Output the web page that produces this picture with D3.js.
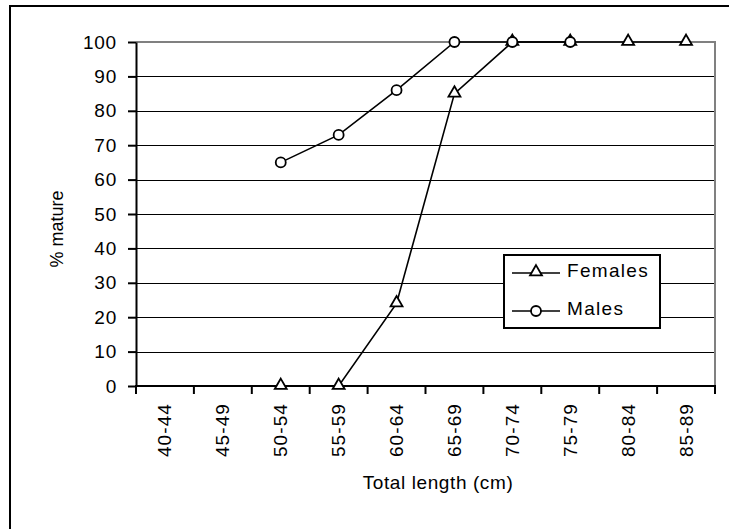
<!DOCTYPE html>
<html>
<head>
<meta charset="utf-8">
<script src="https://cdn.jsdelivr.net/npm/d3@7"></script>
<style>
  html, body { margin: 0; padding: 0; background: #fff; }
  svg { display: block; font-family: "Liberation Sans", Arial, sans-serif; }
</style>
</head>
<body>
<script>
// Length classes (cm) and % mature by sex
const lengthClasses = ["40-44", "45-49", "50-54", "55-59", "60-64", "65-69", "70-74", "75-79", "80-84", "85-89"];
const femalesMature = [null, null, 0, 0, 24, 85, 100, 100, 100, 100];
const malesMature = [null, null, 65, 73, 86, 100, 100, 100, null, null];
const yTicks = [0, 10, 20, 30, 40, 50, 60, 70, 80, 90, 100];

const W = 729, H = 529;
const plot = { left: 136, right: 715, top: 42, bottom: 386 };
const FS = 19;

const svg = d3.select("body").append("svg").attr("width", W).attr("height", H);

// Outer frame (runs off the right and bottom edges)
svg.append("rect")
  .attr("x", 10).attr("y", 6)
  .attr("width", W + 20).attr("height", H + 20)
  .attr("fill", "none").attr("stroke", "#000").attr("stroke-width", 2);

const x = d3.scaleBand().domain(lengthClasses).range([plot.left, plot.right]);
const y = d3.scaleLinear().domain([0, 100]).range([plot.bottom, plot.top]);

// Horizontal gridlines
svg.append("g").selectAll("line")
  .data(yTicks.filter(t => t > 0 && t < 100))
  .join("line")
  .attr("x1", plot.left).attr("x2", plot.right)
  .attr("y1", d => Math.round(y(d)) + 0.5).attr("y2", d => Math.round(y(d)) + 0.5)
  .attr("stroke", "#000").attr("stroke-width", 1);

// Plot area border (top and right in grey)
svg.append("path")
  .attr("d", `M${plot.left},${plot.top} H${plot.right} V${plot.bottom}`)
  .attr("fill", "none").attr("stroke", "#808080").attr("stroke-width", 2);

// Y axis
const yAxis = svg.append("g")
  .attr("transform", `translate(${plot.left},0)`)
  .call(d3.axisLeft(y).tickValues(yTicks).tickSize(8).tickPadding(11).tickSizeOuter(0));
yAxis.select(".domain").attr("stroke", "#000").attr("stroke-width", 2);
yAxis.selectAll(".tick line").attr("stroke", "#000").attr("stroke-width", 2);
yAxis.selectAll(".tick text")
  .attr("font-size", FS).attr("letter-spacing", 0.8).attr("fill", "#000")
  .attr("font-family", "'Liberation Sans', Arial, sans-serif");

// X axis: ticks at class boundaries
const xAxis = svg.append("g").attr("transform", `translate(0,${plot.bottom})`);
xAxis.append("line")
  .attr("x1", plot.left - 1).attr("x2", plot.right + 1)
  .attr("y1", 0).attr("y2", 0)
  .attr("stroke", "#000").attr("stroke-width", 2);
const boundaries = lengthClasses.map(c => x(c)).concat([plot.right]);
xAxis.selectAll("line.tick")
  .data(boundaries)
  .join("line").attr("class", "tick")
  .attr("x1", d => d).attr("x2", d => d)
  .attr("y1", 0).attr("y2", 8)
  .attr("stroke", "#000").attr("stroke-width", 2);
xAxis.selectAll("text")
  .data(lengthClasses)
  .join("text")
  .attr("transform", d => `translate(${x(d) + x.bandwidth() / 2},17) rotate(-90)`)
  .attr("text-anchor", "end")
  .attr("dominant-baseline", "central")
  .attr("font-size", FS).attr("letter-spacing", 1.1)
  .text(d => d);

// Axis titles
svg.append("text")
  .attr("x", 438).attr("y", 489)
  .attr("text-anchor", "middle")
  .attr("font-size", FS).attr("letter-spacing", 0.6)
  .text("Total length (cm)");
svg.append("text")
  .attr("transform", "translate(57,229) rotate(-90)")
  .attr("text-anchor", "middle")
  .attr("dominant-baseline", "central")
  .attr("font-size", 18)
  .text("% mature");

// Series
const cx = (i) => x(lengthClasses[i]) + x.bandwidth() / 2;
const line = d3.line()
  .defined(d => d.v != null)
  .x(d => cx(d.i))
  .y(d => y(d.v));

const triangle = d3.symbol().type(d3.symbolTriangle).size(62);

function drawSeries(values, marker) {
  const pts = values.map((v, i) => ({ v, i }));
  svg.append("path")
    .datum(pts)
    .attr("d", line)
    .attr("fill", "none").attr("stroke", "#000").attr("stroke-width", 1.6);
  const g = svg.append("g");
  const valid = pts.filter(d => d.v != null);
  if (marker === "triangle") {
    g.selectAll("path").data(valid).join("path")
      .attr("d", triangle)
      .attr("transform", d => `translate(${cx(d.i)},${y(d.v) - 0.5})`)
      .attr("fill", "#fff").attr("stroke", "#000").attr("stroke-width", 1.8);
  } else {
    g.selectAll("ellipse").data(valid).join("ellipse")
      .attr("cx", d => cx(d.i)).attr("cy", d => y(d.v))
      .attr("rx", 5).attr("ry", 5)
      .attr("fill", "#fff").attr("stroke", "#000").attr("stroke-width", 1.8);
  }
}
drawSeries(femalesMature, "triangle");
drawSeries(malesMature, "circle");

// Legend
const legend = svg.append("g");
legend.append("rect")
  .attr("x", 504).attr("y", 255).attr("width", 156).attr("height", 73)
  .attr("fill", "#fff").attr("stroke", "#000").attr("stroke-width", 2);
const legendItems = [
  { name: "Females", marker: "triangle", yy: 273 },
  { name: "Males", marker: "circle", yy: 311 }
];
legendItems.forEach(it => {
  legend.append("line")
    .attr("x1", 512).attr("x2", 560).attr("y1", it.yy).attr("y2", it.yy)
    .attr("stroke", "#000").attr("stroke-width", 1.6);
  if (it.marker === "triangle") {
    legend.append("path").attr("d", triangle)
      .attr("transform", `translate(536,${it.yy - 1})`)
      .attr("fill", "#fff").attr("stroke", "#000").attr("stroke-width", 1.8);
  } else {
    legend.append("circle").attr("cx", 536).attr("cy", it.yy).attr("r", 5)
      .attr("fill", "#fff").attr("stroke", "#000").attr("stroke-width", 1.8);
  }
  legend.append("text")
    .attr("x", 567).attr("y", it.yy - 3)
    .attr("dominant-baseline", "central")
    .attr("font-size", FS).attr("letter-spacing", 1.3)
    .text(it.name);
});
</script>
</body>
</html>
